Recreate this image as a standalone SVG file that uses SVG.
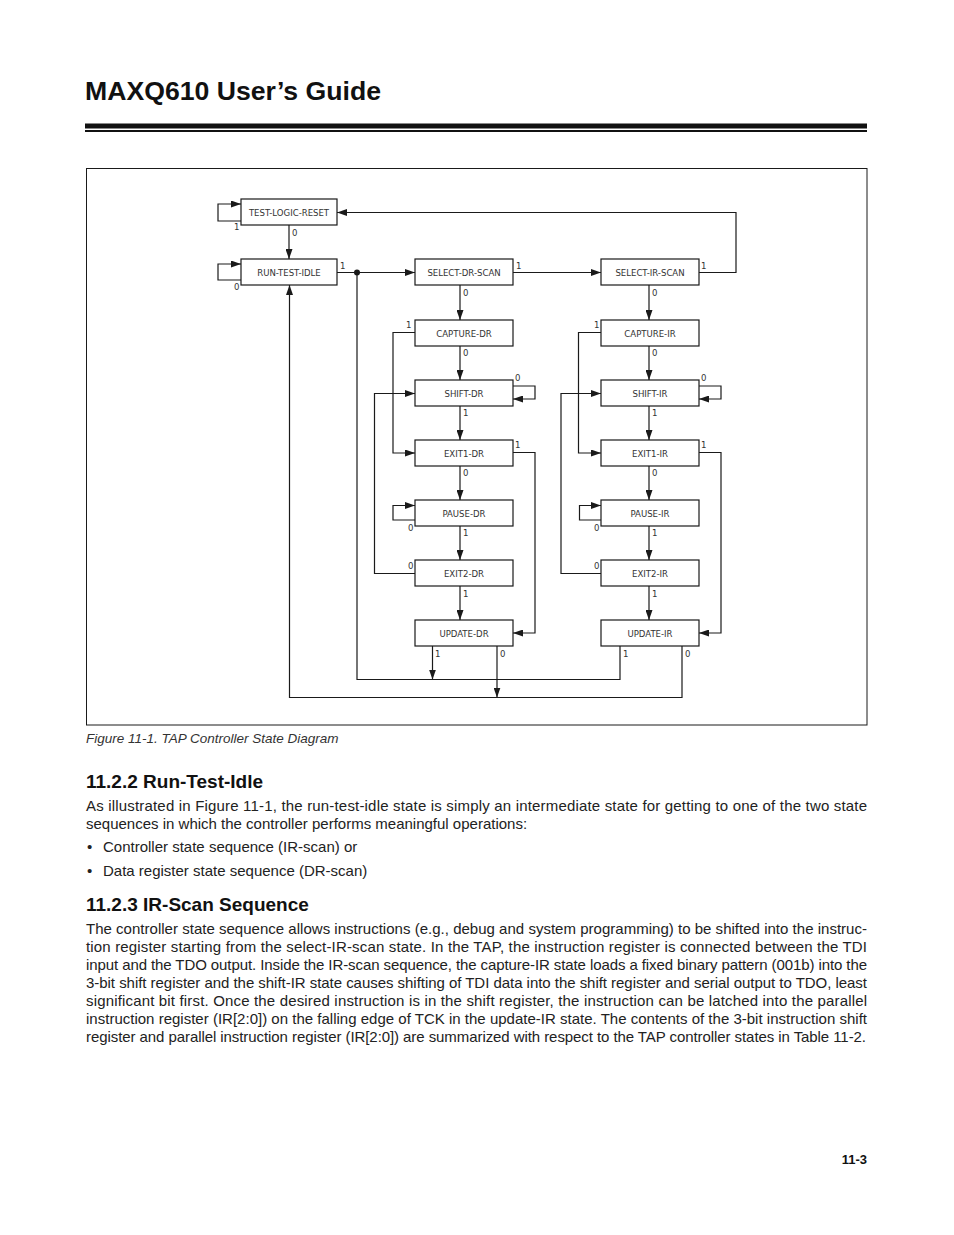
<svg xmlns="http://www.w3.org/2000/svg" width="954" height="1235" viewBox="0 0 954 1235">
<defs>
<marker id="ah" viewBox="0 0 10 7" refX="10" refY="3.5" markerWidth="10" markerHeight="7" markerUnits="userSpaceOnUse" orient="auto">
<path d="M0,0 L10,3.5 L0,7 z" fill="#1a1a1a"/>
</marker>
<style>
.box{fill:#fff;stroke:#1a1a1a;stroke-width:1.2}
.st{font-family:"Liberation Sans Narrow","DejaVu Sans Condensed","Liberation Sans",sans-serif;font-size:9.5px;fill:#333;text-anchor:middle}
.lb{font-family:"Liberation Sans Narrow","DejaVu Sans Condensed","Liberation Sans",sans-serif;font-size:9.5px;fill:#333}
.cn{fill:none;stroke:#1a1a1a;stroke-width:1.2}
.ar{marker-end:url(#ah)}
.body{font-family:"Liberation Sans",Arial,sans-serif;font-size:15px;fill:#222}
.h2{font-family:"Liberation Sans",Arial,sans-serif;font-size:19px;font-weight:bold;fill:#111}
</style>
</defs>
<rect width="954" height="1235" fill="#fff"/>
<text x="85" y="100" font-family="Liberation Sans,Arial,sans-serif" font-size="26" font-weight="bold" fill="#111" textLength="296" lengthAdjust="spacingAndGlyphs">MAXQ610 User’s Guide</text>
<rect x="85" y="123.5" width="782" height="5" fill="#111"/>
<rect x="85" y="130" width="782" height="2" fill="#111"/>
<rect x="86.5" y="168.5" width="780.5" height="556.5" fill="none" stroke="#1a1a1a" stroke-width="1"/>

<g id="connectors">
<path class="cn ar" d="M241,221 H218 V204 H241"/>
<path class="cn ar" d="M241,280 H218 V264 H241"/>
<path class="cn ar" d="M289,225 V259"/>
<path class="cn ar" d="M337,272.5 H415"/>
<circle cx="357" cy="272.5" r="3" fill="#1a1a1a"/>
<path class="cn ar" d="M513,272.5 H601"/>
<path class="cn ar" d="M699,272.5 H736 V212.5 H337"/>
<path class="cn ar" d="M460,285 V320"/>
<path class="cn ar" d="M649,285 V320"/>
<path class="cn ar" d="M460,346 V380"/>
<path class="cn ar" d="M415,332.5 H393 V453 H415"/>
<path class="cn ar" d="M513,386 H535 V399 H513"/>
<path class="cn ar" d="M460,406 V440"/>
<path class="cn ar" d="M513,452.5 H535 V633 H513"/>
<path class="cn ar" d="M460,466 V500"/>
<path class="cn ar" d="M415,520 H393 V505.5 H415"/>
<path class="cn ar" d="M460,526 V560"/>
<path class="cn ar" d="M415,573.5 H374.5 V393.5 H415"/>
<path class="cn ar" d="M460,586 V620"/>
<path class="cn ar" d="M649,346 V380"/>
<path class="cn ar" d="M601,332.5 H578.5 V453 H601"/>
<path class="cn ar" d="M699,386 H721 V399 H699"/>
<path class="cn ar" d="M649,406 V440"/>
<path class="cn ar" d="M699,452.5 H721 V633 H699"/>
<path class="cn ar" d="M649,466 V500"/>
<path class="cn ar" d="M601,520 H579.5 V505.5 H601"/>
<path class="cn ar" d="M649,526 V560"/>
<path class="cn ar" d="M601,573.5 H561 V393.5 H601"/>
<path class="cn ar" d="M649,586 V620"/>
<path class="cn ar" d="M432.5,646 V679.5"/>
<path class="cn ar" d="M497,646 V697.5"/>
<path class="cn" d="M620,646 V679.5 H357 V272.5"/>
<path class="cn ar" d="M682,646 V697.5 H289.5 V285"/>
</g>

<g id="edge-labels">
<text class="lb" x="234" y="230">1</text>
<text class="lb" x="234" y="290">0</text>
<text class="lb" x="292" y="236">0</text>
<text class="lb" x="340" y="269">1</text>
<text class="lb" x="516" y="269">1</text>
<text class="lb" x="701" y="269">1</text>
<text class="lb" x="463" y="296">0</text>
<text class="lb" x="652" y="296">0</text>
<text class="lb" x="406" y="328">1</text>
<text class="lb" x="463" y="356">0</text>
<text class="lb" x="515" y="381">0</text>
<text class="lb" x="463" y="416">1</text>
<text class="lb" x="515" y="448">1</text>
<text class="lb" x="463" y="476">0</text>
<text class="lb" x="408" y="531">0</text>
<text class="lb" x="463" y="536">1</text>
<text class="lb" x="408" y="569">0</text>
<text class="lb" x="463" y="597">1</text>
<text class="lb" x="594" y="328">1</text>
<text class="lb" x="652" y="356">0</text>
<text class="lb" x="701" y="381">0</text>
<text class="lb" x="652" y="416">1</text>
<text class="lb" x="701" y="448">1</text>
<text class="lb" x="652" y="476">0</text>
<text class="lb" x="594" y="531">0</text>
<text class="lb" x="652" y="536">1</text>
<text class="lb" x="594" y="569">0</text>
<text class="lb" x="652" y="597">1</text>
<text class="lb" x="435" y="657">1</text>
<text class="lb" x="500" y="657">0</text>
<text class="lb" x="623" y="657">1</text>
<text class="lb" x="685" y="657">0</text>
</g>

<g id="test-logic-reset"><rect class="box" x="241" y="199" width="96" height="26"/><text class="st" x="289" y="215.5">TEST-LOGIC-RESET</text></g>
<g id="run-test-idle"><rect class="box" x="241" y="259" width="96" height="26"/><text class="st" x="289" y="275.5">RUN-TEST-IDLE</text></g>
<g id="select-dr-scan"><rect class="box" x="415" y="259" width="98" height="26"/><text class="st" x="464" y="275.5">SELECT-DR-SCAN</text></g>
<g id="select-ir-scan"><rect class="box" x="601" y="259" width="98" height="26"/><text class="st" x="650" y="275.5">SELECT-IR-SCAN</text></g>
<g id="capture-dr"><rect class="box" x="415" y="320" width="98" height="26"/><text class="st" x="464" y="336.5">CAPTURE-DR</text></g>
<g id="shift-dr"><rect class="box" x="415" y="380" width="98" height="26"/><text class="st" x="464" y="396.5">SHIFT-DR</text></g>
<g id="exit1-dr"><rect class="box" x="415" y="440" width="98" height="26"/><text class="st" x="464" y="456.5">EXIT1-DR</text></g>
<g id="pause-dr"><rect class="box" x="415" y="500" width="98" height="26"/><text class="st" x="464" y="516.5">PAUSE-DR</text></g>
<g id="exit2-dr"><rect class="box" x="415" y="560" width="98" height="26"/><text class="st" x="464" y="576.5">EXIT2-DR</text></g>
<g id="update-dr"><rect class="box" x="415" y="620" width="98" height="26"/><text class="st" x="464" y="636.5">UPDATE-DR</text></g>
<g id="capture-ir"><rect class="box" x="601" y="320" width="98" height="26"/><text class="st" x="650" y="336.5">CAPTURE-IR</text></g>
<g id="shift-ir"><rect class="box" x="601" y="380" width="98" height="26"/><text class="st" x="650" y="396.5">SHIFT-IR</text></g>
<g id="exit1-ir"><rect class="box" x="601" y="440" width="98" height="26"/><text class="st" x="650" y="456.5">EXIT1-IR</text></g>
<g id="pause-ir"><rect class="box" x="601" y="500" width="98" height="26"/><text class="st" x="650" y="516.5">PAUSE-IR</text></g>
<g id="exit2-ir"><rect class="box" x="601" y="560" width="98" height="26"/><text class="st" x="650" y="576.5">EXIT2-IR</text></g>
<g id="update-ir"><rect class="box" x="601" y="620" width="98" height="26"/><text class="st" x="650" y="636.5">UPDATE-IR</text></g>

<text x="86" y="743" font-family="Liberation Sans,Arial,sans-serif" font-size="13.5" font-style="italic" fill="#333">Figure 11-1. TAP Controller State Diagram</text>

<text class="h2" x="86" y="788">11.2.2 Run-Test-Idle</text>
<text class="body" x="86" y="811" textLength="781" lengthAdjust="spacing">As illustrated in Figure 11-1, the run-test-idle state is simply an intermediate state for getting to one of the two state</text>
<text class="body" x="86" y="829">sequences in which the controller performs meaningful operations:</text>
<text class="body" x="87" y="852">•</text>
<text class="body" x="103" y="852">Controller state sequence (IR-scan) or</text>
<text class="body" x="87" y="876">•</text>
<text class="body" x="103" y="876">Data register state sequence (DR-scan)</text>

<text class="h2" x="86" y="911">11.2.3 IR-Scan Sequence</text>
<text class="body" x="86" y="934" textLength="781" lengthAdjust="spacing">The controller state sequence allows instructions (e.g., debug and system programming) to be shifted into the instruc-</text>
<text class="body" x="86" y="952" textLength="781" lengthAdjust="spacing">tion register starting from the select-IR-scan state. In the TAP, the instruction register is connected between the TDI</text>
<text class="body" x="86" y="970" textLength="781" lengthAdjust="spacing">input and the TDO output. Inside the IR-scan sequence, the capture-IR state loads a fixed binary pattern (001b) into the</text>
<text class="body" x="86" y="988" textLength="781" lengthAdjust="spacing">3-bit shift register and the shift-IR state causes shifting of TDI data into the shift register and serial output to TDO, least</text>
<text class="body" x="86" y="1006" textLength="781" lengthAdjust="spacing">significant bit first. Once the desired instruction is in the shift register, the instruction can be latched into the parallel</text>
<text class="body" x="86" y="1024" textLength="781" lengthAdjust="spacing">instruction register (IR[2:0]) on the falling edge of TCK in the update-IR state. The contents of the 3-bit instruction shift</text>
<text class="body" x="86" y="1042" textLength="780" lengthAdjust="spacing">register and parallel instruction register (IR[2:0]) are summarized with respect to the TAP controller states in Table 11-2.</text>

<text x="867" y="1164" font-family="Liberation Sans,Arial,sans-serif" font-size="13" font-weight="bold" fill="#111" text-anchor="end">11-3</text>
</svg>
